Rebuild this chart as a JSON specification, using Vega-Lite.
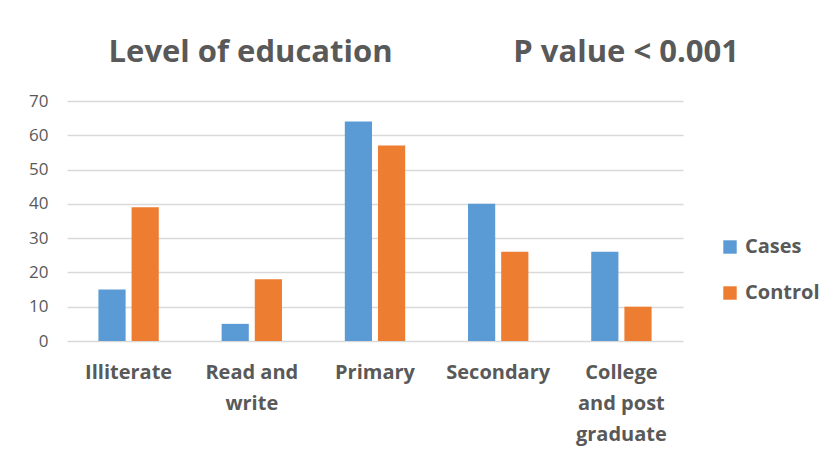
{
  "$schema": "https://vega.github.io/schema/vega-lite/v6.json",
  "width": 616,
  "height": 240,
  "autosize": {"type": "none"},
  "padding": {"left": 67, "top": 101, "right": 149, "bottom": 113},
  "background": "white",
  "title": {
    "text": "Level of education\u00a0\u00a0\u00a0\u00a0\u00a0\u00a0\u00a0\u00a0\u00a0\u00a0\u00a0\u00a0\u00a0\u00a0\u00a0P value < 0.001",
    "anchor": "start",
    "dx": 80,
    "offset": 23,
    "fontSize": 31,
    "font": "Open Sans",
    "fontWeight": "bold",
    "color": "#595959"
  },
  "data": {
    "values": [
      {"education": "Illiterate", "group": "Cases", "percent": 15},
      {"education": "Illiterate", "group": "Control", "percent": 39},
      {"education": "Read and write", "group": "Cases", "percent": 5},
      {"education": "Read and write", "group": "Control", "percent": 18},
      {"education": "Primary", "group": "Cases", "percent": 64},
      {"education": "Primary", "group": "Control", "percent": 57},
      {"education": "Secondary", "group": "Cases", "percent": 40},
      {"education": "Secondary", "group": "Control", "percent": 26},
      {"education": "College and post graduate", "group": "Cases", "percent": 26},
      {"education": "College and post graduate", "group": "Control", "percent": 10}
    ]
  },
  "mark": {"type": "bar"},
  "encoding": {
    "x": {
      "field": "education",
      "type": "nominal",
      "sort": null,
      "scale": {"paddingInner": 0.51, "paddingOuter": 0.255},
      "axis": {
        "title": null,
        "labelAngle": 0,
        "domain": false,
        "ticks": false,
        "labelFont": "Open Sans",
        "labelFontWeight": "bold",
        "labelFontSize": 20,
        "labelColor": "#595959",
        "labelPadding": 21,
        "labelLineHeight": 31,
        "labelExpr": "datum.value == 'Read and write' ? ['Read and', 'write'] : datum.value == 'College and post graduate' ? ['College', 'and post', 'graduate'] : datum.value"
      }
    },
    "xOffset": {"field": "group", "type": "nominal", "scale": {"paddingInner": 0.18}},
    "y": {
      "field": "percent",
      "type": "quantitative",
      "scale": {"domain": [0, 70]},
      "axis": {
        "title": null,
        "values": [0, 10, 20, 30, 40, 50, 60, 70],
        "domain": false,
        "ticks": false,
        "gridColor": "#d9d9d9",
        "gridWidth": 1.3,
        "labelFont": "Open Sans",
        "labelFontSize": 17,
        "labelColor": "#595959",
        "labelPadding": 19
      }
    },
    "color": {
      "field": "group",
      "type": "nominal",
      "scale": {"domain": ["Cases", "Control"], "range": ["#5b9bd5", "#ed7d31"]},
      "legend": {
        "title": null,
        "orient": "none",
        "legendX": 653,
        "legendY": 136,
        "symbolType": "square",
        "symbolSize": 180,
        "labelFont": "Open Sans",
        "labelFontWeight": "bold",
        "labelFontSize": 20,
        "labelColor": "#595959",
        "rowPadding": 26,
        "labelOffset": 5
      }
    }
  },
  "config": {"view": {"stroke": null}}
}
